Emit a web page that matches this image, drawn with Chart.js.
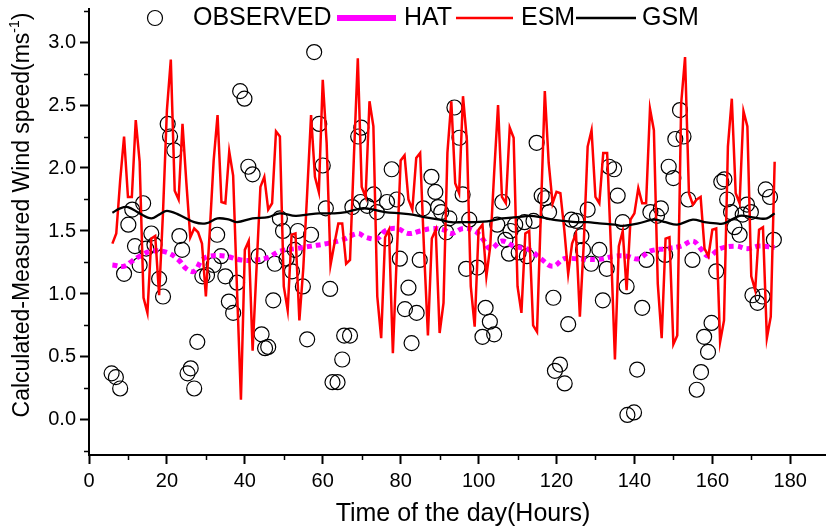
<!DOCTYPE html>
<html>
<head>
<meta charset="utf-8">
<title>Wind speed</title>
<script src="https://cdn.jsdelivr.net/npm/chart.js@4.4.1/dist/chart.umd.min.js"></script>
<style>
  html, body { margin: 0; padding: 0; background: #fff; }
</style>
</head>
<body>
<canvas id="grafico" width="834" height="530"></canvas>
<script>
// datos
const esmStart = 6;
const esmValues = [
  1.40, 1.48, 1.90, 2.25, 1.77, 1.77, 2.38, 2.05, 0.97, 0.85,
  1.44, 1.46, 0.99, 1.65, 2.46, 2.86, 1.82, 1.75, 2.35, 1.88,
  1.45, 1.52, 1.49, 1.40, 0.98, 1.50, 2.06, 2.42, 1.73, 1.72,
  2.13, 1.94, 1.03, 0.16, 1.35, 1.42, 0.55, 1.20, 1.85, 1.93,
  1.67, 1.72, 2.29, 2.25, 1.06, 0.87, 1.47, 1.48, 0.79, 1.20,
  1.80, 2.42, 1.93, 1.81, 2.70, 2.20, 1.23, 1.40, 1.56, 1.56,
  1.24, 1.27, 2.09, 2.87, 1.85, 1.77, 2.53, 2.33, 0.98, 0.65,
  1.45, 1.51, 0.53, 1.30, 2.06, 2.10, 1.75, 1.67, 2.08, 2.12,
  1.35, 0.67, 1.44, 1.51, 0.69, 0.93, 2.12, 2.53, 1.88, 1.80,
  2.57, 2.22, 1.06, 0.74, 1.51, 1.55, 1.14, 1.38, 1.96, 2.50,
  1.77, 1.72, 2.32, 2.24, 1.06, 0.85, 1.48, 1.50, 0.75, 0.70,
  1.65, 2.61, 2.04, 1.72, 1.81, 1.80, 1.51, 1.16, 1.40, 1.48,
  0.82, 1.40, 2.17, 2.30, 1.77, 1.72, 2.12, 2.12, 1.35, 0.48,
  1.38, 1.50, 1.03, 1.59, 1.64, 1.84, 1.72, 1.72, 2.47, 2.30,
  1.08, 0.65, 1.44, 1.45, 0.60, 0.67, 2.51, 2.88, 1.80, 1.71,
  1.75, 1.77, 1.36, 1.30, 1.51, 1.52, 0.62, 0.79, 2.17, 2.55,
  1.80, 1.72, 2.45, 2.33, 1.14, 1.03, 1.51, 1.53, 0.65, 0.82,
  2.05
];

const obsHours = [
  5.8, 6.9, 8.0, 9.0, 10.1, 11.1, 11.8, 13.0, 13.9, 14.7, 16.0, 16.8, 18.0, 19.0, 20.2, 20.8, 21.9, 23.2, 23.9,
  25.3, 26.1, 27.0, 27.8, 29.1, 30.3, 32.0, 32.9, 33.9, 35.0, 35.9, 37.0, 38.0, 38.8, 39.9, 40.9, 42.0, 43.5, 44.3, 45.2, 46.0,
  47.3, 47.7, 49.0, 49.8, 50.7, 52.1, 52.8, 53.6, 54.9, 56.0, 57.0, 57.8, 59.1, 60.0, 60.8, 61.9, 62.5, 63.8, 65.0, 65.5, 67.0, 67.6,
  69.1, 69.9, 69.7, 71.4, 73.1, 73.9, 76.0, 76.5, 77.7, 79.0, 79.8, 81.1, 82.0, 82.8, 84.1, 84.9, 85.8, 87.9, 88.9, 89.6,
  90.4, 91.7, 92.5, 93.8, 95.1, 95.9, 96.8, 97.6, 99.7, 101.0, 101.8, 102.9, 104.0, 104.8, 106.1, 106.9, 107.8, 108.2, 109.4, 110.3, 111.8,
  112.4, 114.1, 114.9, 116.2, 117.1, 118.1, 119.2, 119.6, 120.9, 122.1, 123.0, 123.8, 125.1, 126.4, 126.8, 128.0, 128.9, 131.0, 131.9, 132.9,
  133.5, 134.8, 135.7, 137.0, 138.0, 138.2, 139.9, 140.7, 142.0, 143.1, 144.1, 145.8, 146.8, 147.9, 148.8, 150.0, 150.5, 151.7, 152.6, 153.8, 154.9,
  156.0, 157.1, 157.9, 158.9, 159.8, 161.0, 162.3, 163.1, 163.8, 164.8, 165.7, 167.0, 167.8, 168.9, 169.9, 170.3, 171.6, 172.9, 173.7, 174.8, 175.8
];
const obsValues = [
  0.37, 0.34, 0.25, 1.16, 1.55, 1.67, 1.38, 1.23, 1.72, 1.36, 1.48, 1.39, 1.12, 0.98, 2.35, 2.25, 2.14, 1.46, 1.35,
  0.37, 0.41, 0.25, 0.62, 1.14, 1.15, 1.23, 1.47, 1.30, 1.14, 0.94, 0.85, 1.09, 2.61, 2.55, 2.01, 1.95, 1.30, 0.68, 0.57, 0.58,
  0.95, 1.24, 1.60, 1.50, 1.28, 1.18, 1.35, 1.50, 1.06, 0.64, 1.47, 2.92, 2.35, 2.02, 1.68, 1.04, 0.30, 0.30, 0.48, 0.67, 0.67, 1.69,
  2.25, 2.32, 1.73, 1.70, 1.79, 1.65, 1.44, 1.73, 1.99, 1.75, 1.28, 0.88, 1.05, 0.61, 0.85, 1.27, 1.68, 1.93, 1.81, 1.69,
  1.65, 1.49, 1.60, 2.48, 2.24, 1.79, 1.20, 1.59, 1.21, 0.66, 0.89, 0.78, 0.68, 1.55, 1.73, 1.43, 1.32, 1.50, 1.55, 1.33, 1.57,
  1.30, 1.58, 2.20, 1.78, 1.76, 1.65, 0.97, 0.39, 0.44, 0.29, 0.76, 1.59, 1.58, 1.46, 1.35, 1.67, 1.24, 1.35, 0.95, 1.20,
  2.01, 1.99, 1.78, 1.57, 1.06, 0.04, 0.06, 0.40, 0.89, 1.27, 1.65, 1.62, 1.68, 1.31, 2.01, 1.92, 2.23, 2.46, 2.25, 1.75, 1.27,
  0.24, 0.38, 0.66, 0.54, 0.77, 1.18, 1.89, 1.91, 1.75, 1.65, 1.53, 1.47, 1.63, 1.71, 1.65, 0.99, 0.93, 0.98, 1.83, 1.77, 1.43
];

const hatHours = [6, 9, 11, 13, 16, 20, 23, 25, 27, 29, 31, 35, 39, 43, 46, 49, 53, 57, 61, 65,
  69, 71, 74, 76, 79, 82, 85, 88, 91, 93, 96, 99, 101, 103, 106, 109, 113, 116, 119, 122,
  125, 128, 131, 135, 138, 141, 144, 148, 152, 155, 157, 159, 162, 166, 169, 172, 176];
const hatValues = [1.23, 1.22, 1.26, 1.30, 1.34, 1.33, 1.27, 1.20, 1.18, 1.27, 1.30, 1.30, 1.27, 1.27, 1.29, 1.34, 1.36, 1.38, 1.40, 1.43,
  1.48, 1.45, 1.44, 1.50, 1.52, 1.48, 1.50, 1.52, 1.51, 1.48, 1.52, 1.50, 1.44, 1.36, 1.42, 1.38, 1.35, 1.28, 1.22, 1.28,
  1.28, 1.275, 1.275, 1.30, 1.30, 1.28, 1.34, 1.36, 1.38, 1.42, 1.36, 1.30, 1.36, 1.38, 1.36, 1.38, 1.37];

const gsmHours = [6, 8, 10, 13, 16, 18, 20, 23, 27, 30, 33, 36, 38, 42, 46, 49, 53, 56, 59, 63,
  66, 70, 73, 76, 80, 83, 86, 90, 93, 96, 99, 103, 106, 110, 113, 116, 119, 122, 125, 128,
  131, 135, 137, 141, 145, 148, 151, 155, 158, 161, 163, 167, 170, 172, 174, 176];
const gsmValues = [1.645, 1.68, 1.69, 1.64, 1.60, 1.63, 1.66, 1.63, 1.57, 1.56, 1.60, 1.59, 1.57, 1.60, 1.61, 1.64, 1.62, 1.63, 1.64, 1.64,
  1.65, 1.68, 1.67, 1.65, 1.64, 1.63, 1.61, 1.59, 1.57, 1.57, 1.57, 1.58, 1.60, 1.61, 1.62, 1.61, 1.59, 1.58, 1.57, 1.57,
  1.56, 1.55, 1.54, 1.56, 1.59, 1.57, 1.55, 1.59, 1.57, 1.56, 1.56, 1.62, 1.61, 1.60, 1.60, 1.64];

const xTicks = [0, 20, 40, 60, 80, 100, 120, 140, 160, 180];
const xMinor = [10, 30, 50, 70, 90, 110, 130, 150, 170];
const yTicks = [0, 0.5, 1.0, 1.5, 2.0, 2.5, 3.0];
const yMinor = [-0.25, 0.25, 0.75, 1.25, 1.75, 2.25, 2.75, 3.25];

const FONT = '"Liberation Sans", Arial, sans-serif';
Chart.defaults.font.family = FONT;
Chart.defaults.color = '#000';

const toPoints = (xs, ys) => ys.map((v, i) => ({ x: xs[i], y: v }));
const esmPoints = esmValues.map((v, i) => ({ x: esmStart + i, y: v }));

// ticks menores, titulos y leyenda
const extras = {
  id: 'extras',
  afterDraw(chart) {
    const ctx = chart.ctx;
    const xs = chart.scales.x, ys = chart.scales.y;
    const a = chart.chartArea;
    ctx.save();
    ctx.strokeStyle = '#000';
    ctx.lineWidth = 1.5;
    ctx.beginPath();
    yMinor.forEach(v => {
      const p = Math.round(ys.getPixelForValue(v)) + 0.5;
      ctx.moveTo(a.left - 5, p); ctx.lineTo(a.left, p);
    });
    xMinor.forEach(v => {
      const p = Math.round(xs.getPixelForValue(v)) + 0.5;
      ctx.moveTo(p, a.bottom); ctx.lineTo(p, a.bottom + 5);
    });
    ctx.stroke();

    ctx.fillStyle = '#000';
    ctx.textBaseline = 'middle';

    // titulo eje x
    ctx.font = '25px ' + FONT;
    ctx.textAlign = 'center';
    ctx.fillText('Time of the day(Hours)', 463, 514);

    // titulo eje y con superindice
    ctx.save();
    ctx.translate(23, 215);
    ctx.rotate(-Math.PI / 2);
    ctx.textAlign = 'left';
    const main = 'Calculated-Measured Wind speed(ms';
    ctx.font = '23px ' + FONT;
    const w1 = ctx.measureText(main).width;
    const w3 = ctx.measureText(')').width;
    ctx.font = '14px ' + FONT;
    const w2 = ctx.measureText('-1').width;
    let px = -(w1 + w2 + w3) / 2;
    ctx.font = '23px ' + FONT;
    ctx.fillText(main, px, 0); px += w1;
    ctx.font = '14px ' + FONT;
    ctx.fillText('-1', px, -8); px += w2;
    ctx.font = '23px ' + FONT;
    ctx.fillText(')', px, 0);
    ctx.restore();

    // leyenda
    const ly = 18;
    ctx.font = '25px ' + FONT;
    ctx.textAlign = 'left';
    ctx.strokeStyle = '#000';
    ctx.lineWidth = 1.2;
    ctx.beginPath();
    ctx.arc(155, ly, 7.5, 0, Math.PI * 2);
    ctx.stroke();
    ctx.fillText('OBSERVED', 193, ly);
    const items = [
      { x1: 337, x2: 396, color: '#ff00ff', w: 6, text: 'HAT', tx: 404 },
      { x1: 456, x2: 513, color: '#ff0000', w: 2.5, text: 'ESM', tx: 521 },
      { x1: 576, x2: 636, color: '#000000', w: 2.5, text: 'GSM', tx: 642 }
    ];
    items.forEach(it => {
      ctx.strokeStyle = it.color;
      ctx.lineWidth = it.w;
      ctx.beginPath();
      ctx.moveTo(it.x1, ly); ctx.lineTo(it.x2, ly);
      ctx.stroke();
      ctx.fillText(it.text, it.tx, ly);
    });
    ctx.restore();
  }
};

function fixWidth(w) {
  return scale => {
    scale.width = w;
    scale.paddingTop = 0; scale.paddingBottom = 0;
    scale.paddingLeft = 0; scale.paddingRight = 0;
  };
}
function fixHeight(h) {
  return scale => {
    scale.height = h;
    scale.paddingTop = 0; scale.paddingBottom = 0;
    scale.paddingLeft = 0; scale.paddingRight = 0;
  };
}

new Chart(document.getElementById('grafico').getContext('2d'), {
  type: 'scatter',
  data: {
    datasets: [
      {
        label: 'GSM',
        data: toPoints(gsmHours, gsmValues),
        showLine: true,
        borderColor: '#000000',
        borderWidth: 2.3,
        pointRadius: 0,
        tension: 0.35,
        order: 0
      },
      {
        label: 'ESM',
        data: esmPoints,
        showLine: true,
        borderColor: '#ff0000',
        borderWidth: 2.5,
        pointRadius: 0,
        tension: 0,
        order: 1
      },
      {
        label: 'HAT',
        data: toPoints(hatHours, hatValues),
        showLine: true,
        borderColor: '#ff00ff',
        borderWidth: 5,
        borderDash: [5, 4],
        borderCapStyle: 'butt',
        pointRadius: 0,
        tension: 0.4,
        order: 2
      },
      {
        label: 'OBSERVED',
        data: toPoints(obsHours, obsValues),
        showLine: false,
        pointStyle: 'circle',
        pointRadius: 7.5,
        pointBorderWidth: 1.2,
        pointBorderColor: '#000000',
        pointBackgroundColor: 'rgba(0,0,0,0)',
        order: 3
      }
    ]
  },
  options: {
    responsive: false,
    animation: false,
    layout: { padding: { top: 9, right: 0, bottom: 0, left: 0 } },
    plugins: {
      legend: { display: false },
      tooltip: { enabled: false }
    },
    scales: {
      x: {
        type: 'linear',
        min: 0,
        max: 189,
        afterBuildTicks: scale => { scale.ticks = xTicks.map(v => ({ value: v })); },
        afterFit: fixHeight(75),
        border: { display: true, color: '#000', width: 2 },
        grid: { drawOnChartArea: false, drawTicks: true, tickLength: 9, tickWidth: 2, tickColor: '#000' },
        ticks: { font: { size: 20 }, color: '#000', padding: 5, maxRotation: 0 }
      },
      y: {
        type: 'linear',
        min: -0.278,
        max: 3.262,
        afterBuildTicks: scale => { scale.ticks = yTicks.map(v => ({ value: v })); },
        afterFit: fixWidth(89),
        border: { display: true, color: '#000', width: 2 },
        grid: { drawOnChartArea: false, drawTicks: true, tickLength: 9, tickWidth: 2, tickColor: '#000' },
        ticks: { font: { size: 20 }, color: '#000', padding: 4, callback: v => v.toFixed(1) }
      }
    }
  },
  plugins: [extras]
});
</script>
</body>
</html>
